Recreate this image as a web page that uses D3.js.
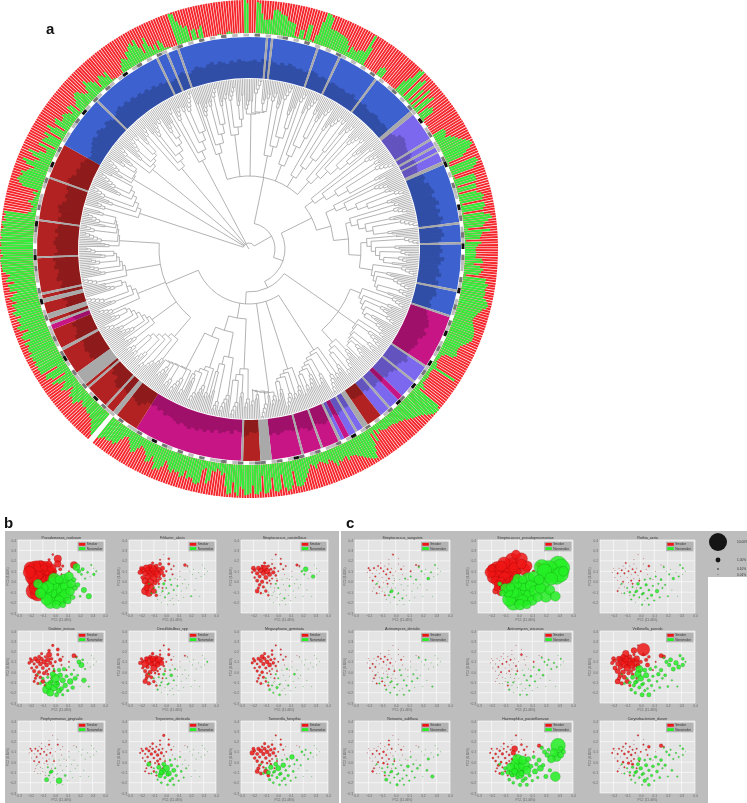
<!DOCTYPE html>
<html><head><meta charset="utf-8">
<script src="https://cdn.jsdelivr.net/npm/d3@7"></script>
<style>html,body{margin:0;padding:0;background:#fff}svg{display:block;filter:blur(.3px)}text{font-family:"Liberation Sans",Arial,sans-serif}</style>
</head><body><div id="c"></div>
<script>
// ---- panel a : outer ring, percent green per bar, 600 bars clockwise from top (-1 = empty bar)
const greenShare=[
0,0,2,94,90,60,42,42,44,44,74,76,72,64,62,60,48,46,44,42,6,4,28,30,4,50,50,6,2,26,
70,100,98,92,58,56,58,56,54,54,52,50,44,32,14,34,28,26,34,38,38,97,60,3,0,0,0,0,0,0,
25,32,28,0,0,0,0,0,0,0,2,40,60,95,100,6,72,84,8,60,4,74,6,56,68,2,36,48,42,5,
0,0,3,0,0,0,0,38,40,36,30,46,56,62,72,82,90,94,84,68,54,5,3,86,90,82,70,4,6,64,
66,66,4,60,60,3,56,70,76,70,6,72,74,66,4,66,84,88,76,64,58,12,78,54,50,46,4,50,40,34,
32,34,34,32,52,56,28,48,58,52,46,8,70,68,78,74,70,74,74,70,80,86,90,86,76,72,66,62,58,56,
60,64,68,72,74,76,76,76,70,64,56,50,48,48,50,54,46,20,12,12,10,8,14,16,85,12,10,10,12,14,
12,12,10,18,28,14,92,100,98,96,90,84,76,70,66,62,60,54,52,44,44,38,40,36,32,32,30,32,30,26,
18,30,12,46,16,54,70,88,86,80,74,68,60,56,48,46,44,54,38,42,48,42,56,44,34,28,40,34,28,24,
30,42,30,24,36,48,60,72,80,82,80,32,74,84,88,76,36,80,86,84,42,76,86,88,34,82,90,88,62,86,
90,92,74,66,94,84,54,88,92,68,28,36,24,18,28,26,58,68,22,28,70,76,74,60,60,66,44,62,68,54,
58,52,64,58,44,34,56,68,66,74,52,38,58,62,44,34,28,24,36,52,58,48,38,30,22,26,40,58,66,60,
66,68,64,72,78,-1,-1,84,76,66,58,48,48,40,44,40,34,40,36,28,42,56,50,44,50,38,24,48,58,44,
32,52,68,18,60,76,72,28,82,80,82,78,84,76,82,80,86,76,82,80,74,84,64,82,86,78,58,82,88,74,
76,80,66,82,88,74,78,84,68,80,86,74,60,82,80,84,64,88,82,74,86,94,96,96,98,100,98,92,98,96,
100,96,98,100,95,98,100,97,92,96,98,88,94,90,96,25,15,18,12,20,30,16,14,10,22,8,60,72,80,75,
68,76,60,54,42,70,84,50,36,62,78,46,26,30,58,8,54,50,42,58,6,46,62,38,10,48,54,32,34,42,
38,30,20,45,40,8,30,35,48,55,52,40,30,25,42,60,48,45,35,10,30,42,36,25,38,5,3,0,0,0,
2,18,30,40,35,28,50,48,60,66,55,70,40,18,45,62,30,15,28,8,35,25,6,4,2,0,0,0,98,95,
70,55,45,48,2,30,34,4,28,38,0,0,0,0,0,0,3,2,0,0,5,8,3,0,0,2,0,0,100,90];

// clade ring: sector start angle (degrees clockwise from top) with its kind
const sectorTable=[[0,"B"],[4.6,"G"],[5.2,"B"],[6,"G"],[6.6,"B"],[18.6,"G"],[19.2,"B"],[25,"G"],[25.6,"B"],[36.5,"G"],[37.1,"B"],[49.5,"G"],[50.7,"P"],[58.6,"G"],[59.2,"P"],[60.8,"G"],[61.4,"P"],[62.7,"G"],[63.1,"P"],[65.6,"G"],[66.6,"B"],[82.7,"G"],[83.3,"B"],[88.1,"G"],[88.7,"B"],[101.1,"G"],[101.7,"B"],[108.2,"G"],[108.8,"M"],[123.3,"G"],[123.9,"P"],[128.5,"G"],[129.1,"P"],[133.8,"M"],[135.3,"P"],[138.2,"G"],[138.8,"P"],[141.6,"R"],[145.9,"G"],[147.5,"P"],[149.2,"G"],[149.8,"P"],[151.8,"M"],[153.3,"P"],[154.3,"G"],[155,"M"],[159.5,"G"],[160.1,"M"],[165,"G"],[165.6,"M"],[173.8,"G"],[176.9,"R"],[181.6,"G"],[182.2,"M"],[212.1,"R"],[218.5,"G"],[219.9,"R"],[222,"G"],[222.6,"R"],[229,"G"],[229.6,"R"],[230.4,"G"],[234.3,"R"],[241.4,"G"],[242.2,"R"],[247.7,"M"],[249.1,"G"],[249.7,"R"],[250.7,"G"],[252.2,"R"],[255.3,"G"],[256.5,"R"],[257.5,"G"],[258.1,"R"],[267.5,"G"],[268,"R"],[277.6,"G"],[278.1,"R"],[289.4,"G"],[289.9,"R"],[299.4,"B"],[314,"G"],[314.6,"B"],[334,"G"],[334.6,"B"],[337,"G"],[337.6,"B"],[340.2,"G"],[340.8,"B"]];
const kindColor={B:"#3d62d0",R:"#b22222",M:"#c71585",P:"#7b68ee",G:"#a9a9a9"};

// clade ring: darker inner bar height in percent, one per 1.2 degrees
const darkShare=[
42,45,40,48,44,46,42,38,44,40,46,42,38,40,36,40,44,42,36,40,38,34,38,36,34,
36,32,34,38,30,34,32,36,30,28,32,34,30,28,32,30,26,30,34,45,48,44,40,38,42,
36,40,42,38,36,44,46,40,50,52,56,48,54,60,50,58,52,62,55,48,56,60,52,46,50,
55,48,60,52,46,50,56,44,52,48,50,54,46,42,48,40,44,50,56,60,54,62,58,50,55,
52,48,46,50,56,46,42,50,44,38,42,36,40,34,38,30,34,28,32,30,30,26,30,36,34,
38,42,36,40,44,48,44,40,46,50,42,38,44,40,36,34,38,42,36,40,34,38,30,32,30,
38,42,30,26,36,30,34,38,32,40,36,42,38,44,40,46,42,38,44,40,36,34,38,30,34,
28,32,30,40,50,46,42,38,44,40,46,50,44,30,34,25,28,20,24,30,46,52,48,54,50,
46,52,58,50,46,52,40,44,48,36,50,44,52,48,56,52,46,58,54,50,60,56,62,58,50,
54,60,56,50,58,52,46,54,48,56,60,52,44,50,46,52,48,56,50,42,46,40,44,38,34,
30,36,40,46,50,44,52,48,42,50,46,40,44,50,54,48,52,46,50,44,48,42,46,40,44,
38,42,36,40,32,36,40,44,38,34,40,46,42,38,44,48,40,46,42,38,44,40,46,42,40];

// thin marker strip between the rings, one per 1.5 degrees: 0 white, 1 grey, 2 dark grey, 3 black
const stripState=[
0,2,0,1,0,1,2,0,1,0,2,0,1,0,1,0,2,1,0,1,0,1,0,2,
0,1,0,1,2,0,1,0,2,1,0,3,0,1,2,0,1,1,0,2,3,0,1,0,
2,1,1,0,3,1,2,0,1,2,1,3,0,2,1,1,0,2,1,3,0,1,2,1,
0,2,1,3,0,1,2,1,0,3,1,2,1,0,3,1,0,2,3,0,2,1,0,1,
0,2,1,0,3,1,0,2,1,1,0,2,1,0,2,3,1,0,2,1,0,2,2,1,
0,2,1,0,2,1,1,0,2,0,1,0,2,0,1,2,0,3,1,0,2,1,1,0,
2,0,1,1,2,0,3,1,0,2,1,1,2,0,1,3,2,0,1,2,1,1,0,2,
1,0,3,1,2,0,1,1,2,1,3,2,0,1,1,2,3,1,0,2,1,1,0,1,
2,0,1,3,0,1,2,0,1,1,0,1,2,0,3,1,0,2,1,0,2,1,0,1,
3,0,1,2,0,1,0,2,1,0,1,2,0,1,0,2,0,1,0,2,0,1,0,1];

// phylogeny: t(radius, children...) is an inner node, c(leaves, radius) a ladderised clade
const t=(r,...kids)=>({r,kids}), c=(n,r)=>({n,r});
const tipGroups=[4,3,5,3,6,4,2,5,3,4];
const tipBase=[150,144,154,140,148,156,146,152];
const phylogeny=t(6,
 c(23,115),c(13,135),c(18,125),c(20,105),c(18,100),
 t(26,
  t(73,c(17,100),c(13,115),c(17,135),c(17,95),c(17,90),c(17,85),c(19,90)),
  t(36,
   t(70,c(20,80),t(85,c(17,95),t(100,c(20,105),t(112,c(20,118),c(20,125))))),
   t(43,
    t(109,c(23,120),c(22,130),c(15,125)),
    t(55,
     c(25,120),c(17,126),c(17,145),
     t(70,c(13,120),t(85,c(14,110),t(95,c(15,125),c(21,135)))),
     t(90,c(23,115),c(23,120),c(20,120),c(23,125),c(23,130)))))));

// ---- panels b and c : shared ordination of the 96 samples
const pc1=[-.21,-.19,-.17,-.16,-.15,-.14,-.13,-.12,-.11,-.10,-.09,-.08,-.07,-.06,-.05,-.04,-.03,-.02,-.17,-.15,-.17,-.14,-.13,-.12,-.10,-.09,-.07,-.05,0,.02,.04,.06,.02,-.02,-.05,.15,.17,-.01,.09,.11,-.19,-.11,-.08,-.03,-.20,-.16,-.06,.05,
-.10,-.08,-.07,-.06,-.05,-.04,-.03,-.02,-.01,0,.01,.02,.03,.04,.05,.06,.07,.08,.09,.10,.11,.12,.13,.14,.15,.16,.18,.19,.21,.22,.23,.24,.26,.27,.28,.29,.31,.31,.20,-.12,-.14,-.01,.33,.17,.01,-.04,.06,.03];
const pc2=[.09,.11,.08,.13,.05,.11,.15,.08,.13,.04,.10,.15,.07,.12,.17,.09,.13,.06,.01,-.03,-.09,-.11,0,-.05,-.09,-.01,.01,.03,.10,.17,.12,.15,.22,.26,.21,.16,.15,.01,.02,.10,.04,.18,-.13,-.06,.13,-.06,-.02,.07,
-.06,-.10,-.17,-.05,-.13,-.20,-.09,-.02,-.15,-.06,-.22,-.11,.02,-.03,-.16,-.08,.03,-.13,-.04,-.18,.05,-.09,-.02,-.15,.02,-.06,-.03,.10,.07,.12,-.08,.03,.09,-.14,.05,.16,.07,.13,-.14,-.11,-.02,.03,.10,.14,-.12,-.10,-.22,-.18];
const smokerCount=48;
const xTicks=[-.3,-.2,-.1,0,.1,.2,.3,.4], yTicks=[-.3,-.2,-.1,0,.1,.2,.3,.4];
const legendLabels=["Smoker","Nonsmoker"];
const sizeLegendValues=[100,10,1,.1], sizeLegendLabels=["10.00%","1.00%","0.10%","0.01%"];
const speciesB=["Pseudomonas_nodosum","Filifactor_alocis","Streptococcus_constellatus","Dialister_invisus","Desulfobulbus_spp","Megasphaera_geminata","Porphyromonas_gingivalis","Treponema_denticola","Tannerella_forsythia"];
const speciesC=["Streptococcus_sanguinis","Streptococcus_pseudopneumoniae","Rothia_aeria","Actinomyces_dentalis","Actinomyces_viscosus","Veillonella_parvula","Neisseria_subflava","Haemophilus_parainfluenzae","Corynebacterium_durum"];
// abundance per sample in tenths of a percent
const pseudomonas=[50,60,55,70,55,75,45,80,60,70,85,35,70,50,15,45,30,25,60,65,85,80,60,60,55,40,40,20,5,18,5,3,22,2,3,20,1,3,1,1,55,10,20,3,55,55,4,1,
40,60,45,50,65,50,70,55,70,75,25,75,25,65,50,60,30,45,50,20,30,30,25,10,8,10,10,6,2,5,12,1,2,12,0,1,3,0,2,40,30,45,1,20,65,65,15,35];
const filifactor=[10,14,12,18,15,22,8,26,22,20,26,7,18,8,5,10,8,5,18,15,22,18,22,14,12,8,6,4,2,3,1,1,2,0,1,4,1,1,0,0,7,3,4,1,7,13,2,1,
1,1,0,1,0,0,1,3,1,1,0,1,1,1,0,1,0,0,1,0,0,0,0,0,0,0,0,0,0,0,0,0,0,0,0,0,0,0,1,1,1,0,0,0,0,0,0,0];
const constellatus=[2,4,6,8,5,12,3,10,15,8,14,3,8,3,1,6,2,2,5,4,8,2,6,3,4,2,1,1,1,2,1,1,1,1,0,3,1,1,0,0,2,3,2,0,8,3,1,0,
0,0,0,0,0,0,0,1,0,1,0,0,0,0,1,0,0,0,1,0,0,0,0,0,0,0,0,2,1,10,0,0,0,0,6,0,0,0,0,0,0,0,0,0,0,0,0,0];
const dialister=[4,6,3,8,4,10,5,8,6,5,10,3,8,10,12,6,4,3,6,5,3,3,5,4,8,6,4,2,3,3,6,1,5,3,4,8,2,3,1,1,3,3,4,2,3,3,3,1,
3,1,25,3,22,20,4,12,18,30,8,5,6,10,8,12,6,10,5,3,1,14,3,6,1,8,2,8,12,2,10,1,0,1,0,0,0,0,0,3,1,2,0,1,16,8,3,12];
const desulfobulbus=[6,4,20,8,6,25,5,8,15,18,28,4,10,20,2,12,3,2,6,10,10,6,8,5,4,2,2,1,1,3,1,0,2,1,1,1,0,1,0,0,3,4,2,1,3,4,2,0,
1,0,1,1,1,0,0,3,0,1,0,1,1,4,0,1,1,0,0,0,0,0,0,0,0,0,0,0,0,0,0,0,0,0,0,0,0,0,0,0,1,1,1,0,1,1,0,0];
const megasphaera=[3,4,2,5,3,6,8,6,5,3,8,3,8,3,2,4,2,2,3,2,2,3,4,3,2,1,1,1,1,1,1,1,1,1,2,0,0,1,0,0,2,3,2,1,3,2,1,0,
1,1,2,0,1,1,0,1,3,1,2,0,0,0,0,0,1,1,0,0,0,0,2,0,0,0,0,0,0,0,0,0,0,0,0,0,0,0,0,0,0,0,0,0,1,0,0,0];
const porphyromonas=[0,1,0,1,1,1,0,1,1,0,1,0,1,0,1,1,0,0,1,0,0,0,1,0,0,0,1,0,0,1,0,0,0,0,0,0,0,1,0,0,0,0,0,0,1,0,0,0,
0,0,8,1,1,0,5,0,0,1,0,0,0,0,0,0,0,2,0,0,0,0,0,0,0,0,0,0,0,0,0,0,0,0,0,0,0,0,0,0,0,0,0,0,0,3,0,14];
const treponema=[1,2,1,3,2,3,1,4,2,2,3,1,4,2,1,3,1,1,1,1,1,1,2,1,2,1,3,2,1,2,1,0,1,3,1,0,0,1,0,0,1,2,1,1,1,1,2,0,
1,2,1,8,10,2,15,8,3,18,2,12,2,4,3,8,1,3,2,1,1,2,0,1,0,1,0,0,0,0,0,0,0,0,0,0,0,0,0,1,8,0,0,0,6,10,2,3];
const tannerella=[10,3,5,6,3,8,2,6,5,4,8,3,5,4,2,5,3,2,4,3,8,5,3,2,10,2,2,1,1,2,1,0,1,1,0,0,0,1,0,0,4,3,5,1,5,5,2,0,
2,8,3,10,2,2,3,8,3,12,2,4,1,10,3,2,2,3,2,1,10,2,1,1,2,0,1,2,1,1,0,1,1,0,0,0,0,0,0,2,1,1,0,0,3,2,1,1];
const sanguinis=[0,1,0,1,1,0,1,0,1,0,1,0,1,1,0,1,0,0,1,0,0,1,0,1,0,0,0,1,0,0,1,0,0,1,0,1,1,0,0,1,0,0,1,0,1,0,1,0,
0,0,0,0,1,0,5,0,1,0,0,1,0,0,1,0,1,0,0,0,1,0,0,0,1,0,0,1,0,0,0,4,1,0,0,1,0,0,0,0,1,0,0,1,0,1,0,0];
const pseudopneumoniae=[40,50,50,60,45,70,40,70,60,45,80,55,60,70,50,60,45,25,30,25,15,10,30,25,12,20,20,10,10,35,50,40,50,30,60,12,3,15,2,3,45,50,8,15,20,15,15,4,
30,35,60,25,65,75,70,45,75,60,40,70,25,50,65,55,50,50,45,35,40,45,55,30,35,40,55,70,95,95,35,55,100,35,80,100,75,100,50,15,8,30,35,75,60,45,25,45];
const rothia=[0,0,1,0,0,1,0,1,0,0,1,0,0,1,0,1,0,0,0,0,1,0,1,0,0,0,1,0,1,0,0,2,0,0,0,0,0,1,0,0,0,1,0,0,0,0,1,0,
1,2,1,1,2,0,3,4,1,2,1,2,1,3,1,2,1,3,1,1,1,6,1,1,2,1,1,0,1,0,0,3,0,0,1,1,0,1,1,1,1,0,0,1,2,1,1,0];
const dentalis=[0,0,1,0,1,0,1,0,1,0,1,1,0,1,0,1,0,0,0,1,0,1,0,0,1,0,0,1,0,0,1,0,0,0,0,0,0,1,0,0,1,0,1,0,0,1,0,0,
1,0,1,1,0,1,1,0,1,0,1,0,1,1,0,1,0,1,0,1,0,1,1,0,0,1,0,0,0,1,0,0,0,1,0,0,0,0,0,1,0,0,0,1,1,1,1,0];
const viscosus=[0,0,0,0,1,0,0,1,0,0,1,0,0,1,0,0,0,1,0,0,0,0,1,0,0,0,1,0,0,2,0,0,0,0,0,0,0,1,0,1,0,0,1,0,0,0,0,0,
0,1,1,0,0,0,0,1,0,0,1,0,0,1,0,1,0,1,2,0,1,1,0,0,2,0,2,1,1,1,0,1,1,0,1,0,0,1,0,0,0,0,0,1,0,1,1,0];
const veillonella=[6,5,8,12,10,25,10,25,20,18,30,8,22,8,3,25,15,10,12,10,12,6,10,8,10,6,5,5,6,3,6,4,55,1,14,8,6,4,1,1,8,18,3,2,8,6,4,8,
2,4,4,8,5,4,6,18,5,15,8,3,8,12,2,5,5,3,3,1,3,2,6,2,6,2,4,6,6,8,1,8,10,1,8,3,6,4,2,2,1,20,1,2,5,6,8,3];
const neisseria=[0,0,1,0,0,1,0,1,0,1,2,0,1,0,1,0,1,0,0,0,2,0,1,0,0,2,0,1,0,0,1,0,0,0,1,0,0,1,0,0,0,0,1,0,0,1,1,0,
1,2,5,1,1,1,3,1,1,1,3,1,0,1,1,1,0,1,4,1,1,1,1,1,0,2,1,0,0,0,2,3,0,5,0,0,1,0,0,0,1,1,0,0,1,1,1,1];
const haemophilus=[1,0,2,1,1,2,0,3,1,2,1,1,2,1,0,10,15,3,2,3,1,2,2,1,1,2,1,2,1,2,2,1,0,1,0,6,1,2,0,1,2,1,1,2,1,1,2,1,
6,8,4,25,5,4,15,45,6,50,6,12,25,45,6,25,10,5,8,3,5,12,6,3,8,15,6,8,10,5,6,22,25,35,30,70,15,10,8,6,3,35,8,6,25,30,5,6];
const corynebacterium=[1,0,1,1,0,1,1,2,0,1,2,1,2,1,0,1,1,0,1,0,1,0,2,1,0,3,1,1,1,1,1,4,0,1,0,6,1,1,0,0,0,1,1,1,1,0,3,1,
1,2,1,3,2,1,3,5,2,6,1,3,2,5,2,3,2,3,4,1,3,4,3,2,4,1,3,2,2,1,2,1,1,1,1,1,1,2,1,1,1,5,0,1,3,4,4,6];
const panelAbundance=[pseudomonas,filifactor,constellatus,dialister,desulfobulbus,megasphaera,porphyromonas,treponema,tannerella,
 sanguinis,pseudopneumoniae,rothia,dentalis,viscosus,veillonella,neisseria,haemophilus,corynebacterium];
const hideFirstTick=new Set([2,10,11,14,17]);

const W=747,H=803,svg=d3.select("#c").append("svg").attr("width",W).attr("height",H);
svg.append("rect").attr("width",W).attr("height",H).attr("fill","#fff");

// ---------- a ----------
const cx=249,cy=249,g=svg.append("g").attr("transform",`translate(${cx},${cy})`);
const rad=d3.scaleLinear().domain([0,360]).range([0,2*Math.PI]);
const R={leaf:170,cladeIn:171,cladeOut:212,stripIn:212.5,stripOut:215.5,barIn:216,barOut:249};
const barStep=360/greenShare.length, barR=d3.scaleLinear().domain([0,100]).range([R.barIn,R.barOut]);
const arc=d3.arc();
const wedge=(a0,a1,r0,r1)=>arc({startAngle:rad(a0),endAngle:rad(a1),innerRadius:r0,outerRadius:r1});
const bars=greenShare.map((v,i)=>({v,i})).filter(d=>d.v>=0);
g.append("g").selectAll("path").data(bars).join("path")
 .attr("d",d=>wedge(d.i*barStep+.03,d.i*barStep+barStep-.11,R.barIn,R.barOut)).attr("fill","#f5262b");
g.append("g").selectAll("path").data(bars.filter(d=>d.v>0)).join("path")
 .attr("d",d=>wedge(d.i*barStep+.02,d.i*barStep+barStep-.1,R.barIn,barR(d.v))).attr("fill","#2df23c");

const stripStep=360/stripState.length, stripFill=["#ffffff","#bdbdbd","#777777","#111111"];
g.append("g").selectAll("path").data(stripState).join("path")
 .attr("d",(d,i)=>wedge(i*stripStep,(i+1)*stripStep,R.stripIn,R.stripOut)).attr("fill",d=>stripFill[d]);

const sectors=sectorTable.map((d,i)=>({s:d[0],e:i+1<sectorTable.length?sectorTable[i+1][0]:360,k:d[1]}));
const sectorG=g.append("g");
sectorG.selectAll("path.col").data(sectors.filter(d=>d.k!="G")).join("path").attr("class","col")
 .attr("d",d=>wedge(d.s,d.e,R.cladeIn,R.cladeOut)).attr("fill",d=>kindColor[d.k]);
const darkStep=360/darkShare.length, darkR=d3.scaleLinear().domain([0,100]).range([R.cladeIn,R.cladeOut]);
sectorG.selectAll("path.dk").data(darkShare).join("path").attr("class","dk")
 .attr("d",(d,i)=>wedge(i*darkStep,(i+1)*darkStep,R.cladeIn,darkR(d))).attr("fill","#000").attr("fill-opacity",.2);
sectorG.selectAll("path.gr").data(sectors.filter(d=>d.k=="G")).join("path").attr("class","gr")
 .attr("d",d=>wedge(d.s,d.e,R.cladeIn,R.cladeOut)).attr("fill",kindColor.G);

// tree
let gi=0,bi=0;
const tips=(n,r)=>n<=2?{r,children:d3.range(n).map(()=>({r:R.leaf}))}:{r,children:[{r:R.leaf},tips(n-1,r+4)]};
function expand(d){
 if(d.kids) return {r:d.r,children:d.kids.map(expand)};
 const rungs=d.n/3.9, step=Math.min(15,(140-d.r)/Math.max(1,rungs));
 const ladder=(n,r)=>{
  const take=Math.min(tipGroups[gi++%tipGroups.length],n);
  const base=Math.max(tipBase[bi++%tipBase.length],r+4);
  const tip=take==1?{r:R.leaf}:tips(take,base);
  return n>take?{r,children:[tip,ladder(n-take,r+step)]}:{r,children:[tip]};
 };
 return ladder(d.n,d.r);
}
const root=d3.hierarchy(expand(phylogeny));
d3.cluster().size([360-360/600,1]).separation(()=>1)(root);
const treeStart=285, polar=(x,r)=>{const a=rad(x+treeStart-90);return [r*Math.cos(a),r*Math.sin(a)]};
const tp=d3.path();
root.descendants().forEach(n=>{
 const rr=n.data.r;
 if(n.parent){const p=polar(n.x,n.parent.data.r),q=polar(n.x,rr);tp.moveTo(p[0],p[1]);tp.lineTo(q[0],q[1]);}
 if(n.children&&n.children.length>1){
  const a=n.children[0].x,b=n.children[n.children.length-1].x,s=polar(a,rr);
  tp.moveTo(s[0],s[1]);tp.arc(0,0,rr,rad(a+treeStart-90),rad(b+treeStart-90));
 }
});
const s0=polar(root.x,0),s1=polar(root.x,6);tp.moveTo(s0[0],s0[1]);tp.lineTo(s1[0],s1[1]);
g.append("path").attr("d",tp.toString()).attr("fill","none").attr("stroke","#9a9a9a").attr("stroke-width",.75);

// ---------- b, c ----------
svg.append("rect").attr("x",5).attr("y",531).attr("width",334).attr("height",272).attr("fill","#bdbdbd");
svg.append("rect").attr("x",341).attr("y",531).attr("width",367).attr("height",272).attr("fill","#bdbdbd");
svg.append("rect").attr("x",708).attr("y",531).attr("width",39).attr("height",46).attr("fill","#bdbdbd");

const rows=[[540,613],[631,703],[721,793]];
const colsB=[18,129,241],colsC=[355,478,600];
const sizeR=d3.scalePow().exponent(.6).domain([0,100]).range([.25,9]);
const panels=[];
[speciesB,speciesC].forEach((names,set)=>{
 names.forEach((name,i)=>{
  const xs=set?colsC:colsB,w=set?95:87;
  panels.push({name,x0:xs[i%3],w,y0:rows[Math.floor(i/3)][0],y1:rows[Math.floor(i/3)][1],vals:panelAbundance[i+set*9],idx:i+set*9});
 });
});
panels.forEach(p=>{
 const sx=d3.scaleLinear().domain([-.3,.4]).range([p.x0,p.x0+p.w]);
 const sy=d3.scaleLinear().domain([-.3,.4]).range([p.y1,p.y0]);
 const pg=svg.append("g");
 const cid="cp"+p.idx;
 pg.append("clipPath").attr("id",cid).append("rect").attr("x",p.x0).attr("y",p.y0).attr("width",p.w).attr("height",p.y1-p.y0);
 pg.append("rect").attr("x",p.x0).attr("y",p.y0).attr("width",p.w).attr("height",p.y1-p.y0).attr("fill","#e4e4e4");
 pg.selectAll("line.vg").data(xTicks).join("line").attr("class","vg").attr("x1",sx).attr("x2",sx).attr("y1",p.y0).attr("y2",p.y1).attr("stroke","#fff").attr("stroke-width",.6);
 pg.selectAll("line.hg").data(yTicks).join("line").attr("class","hg").attr("y1",sy).attr("y2",sy).attr("x1",p.x0).attr("x2",p.x0+p.w).attr("stroke","#fff").attr("stroke-width",.6);
 const hide=hideFirstTick.has(p.idx);
 const ax=d3.axisBottom(sx).tickValues(hide?xTicks.slice(1):xTicks).tickSize(0).tickPadding(1.5).tickFormat(d3.format(".1f"));
 const ay=d3.axisLeft(sy).tickValues(hide?yTicks.slice(1):yTicks).tickSize(0).tickPadding(2).tickFormat(d3.format(".1f"));
 const axG=pg.append("g").attr("transform",`translate(0,${p.y1})`).call(ax);
 const ayG=pg.append("g").attr("transform",`translate(${p.x0},0)`).call(ay);
 [axG,ayG].forEach(a=>{a.select(".domain").remove();a.selectAll("text").attr("font-size",3.2).attr("fill","#666");});
 pg.append("text").attr("x",p.x0+p.w/2).attr("y",p.y0-1.5).attr("text-anchor","middle").attr("font-size",3.6).attr("fill","#333").text(p.name);
 pg.append("text").attr("x",p.x0+p.w/2).attr("y",p.y1+8).attr("text-anchor","middle").attr("font-size",3.2).attr("fill","#666").text("PC1 (11.46%)");
 pg.append("text").attr("transform",`translate(${p.x0-9.5},${(p.y0+p.y1)/2}) rotate(-90)`).attr("text-anchor","middle").attr("font-size",3.2).attr("fill","#666").text("PC2 (8.85%)");
 // smokers underneath, then non-smokers, big circles first inside each group
 const pts=p.vals.map((v,i)=>({v,x:pc1[i],y:pc2[i],sm:i<smokerCount})).sort((a,b)=>(b.sm-a.sm)||(b.v-a.v));
 pg.append("g").attr("clip-path",`url(#${cid})`).selectAll("circle").data(pts).join("circle")
  .attr("cx",d=>sx(d.x)).attr("cy",d=>sy(d.y)).attr("r",d=>sizeR(d.v))
  .attr("fill",d=>d.sm?"#ee1515":"#25ee25").attr("fill-opacity",.85)
  .attr("stroke",d=>d.sm?"#7a0000":"#0a6a0a").attr("stroke-width",.22);
 const lw=p.w>90?27.5:26,lx=p.x0+p.w-lw-1.5,ly=p.y0+1.7;
 pg.append("rect").attr("x",lx).attr("y",ly).attr("width",lw).attr("height",9.6).attr("fill","#b3b3b3");
 legendLabels.forEach((lab,j)=>{
  pg.append("rect").attr("x",lx+1.3).attr("y",ly+1.2+j*4.3).attr("width",6.5).attr("height",2.8).attr("fill",j?"#25ee25":"#ee1515");
  pg.append("text").attr("x",lx+9.3).attr("y",ly+3.7+j*4.3).attr("font-size",3.1).attr("fill","#333").text(lab);
 });
});

// size legend
const sizeY=[542,560,569,574.5];
sizeLegendValues.forEach((v,i)=>{
 svg.append("circle").attr("cx",718).attr("cy",sizeY[i]).attr("r",sizeR(v)).attr("fill","#151515");
 svg.append("text").attr("x",737).attr("y",sizeY[i]+1).attr("font-size",3.2).attr("fill","#333").text(sizeLegendLabels[i]);
});

// panel letters
[["a",46,34],["b",4,528],["c",346,528]].forEach(d=>{
 svg.append("text").attr("x",d[1]).attr("y",d[2]).attr("font-size",15).attr("font-weight","bold").attr("fill","#111").text(d[0]);
});
</script></body></html>
